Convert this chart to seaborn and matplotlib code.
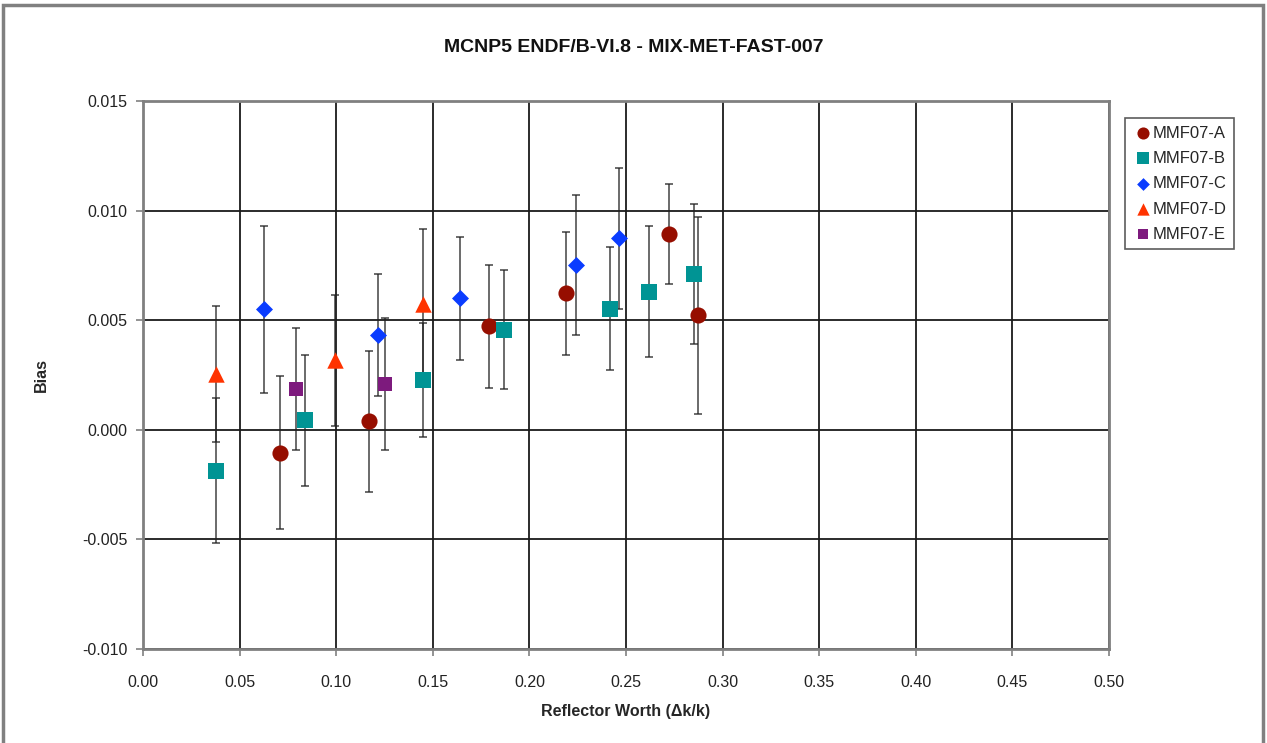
import matplotlib
matplotlib.use("Agg")
import matplotlib.pyplot as plt
import seaborn as sns
import pandas as pd
from matplotlib.patches import Rectangle

# ---- data ----
series_names = ["MMF07-A", "MMF07-B", "MMF07-C", "MMF07-D", "MMF07-E"]

a_x = [0.0707, 0.1169, 0.1789, 0.2192, 0.2720, 0.2875]
a_y = [-0.00104, 0.00038, 0.00472, 0.00622, 0.00893, 0.00523]
a_e = [0.0035, 0.0032, 0.0028, 0.0028, 0.0023, 0.0045]

b_x = [0.0376, 0.0840, 0.1448, 0.1867, 0.2417, 0.2618, 0.2853]
b_y = [-0.00186, 0.00043, 0.00229, 0.00457, 0.00552, 0.00630, 0.00712]
b_e = [0.0033, 0.0030, 0.0026, 0.0027, 0.0028, 0.0030, 0.0032]

c_x = [0.0626, 0.1215, 0.1643, 0.2241, 0.2465]
c_y = [0.00549, 0.00433, 0.00599, 0.00751, 0.00873]
c_e = [0.0038, 0.0028, 0.0028, 0.0032, 0.0032]

d_x = [0.0376, 0.0995, 0.1451]
d_y = [0.00256, 0.00317, 0.00575]
d_e = [0.0031, 0.0030, 0.0034]

e_x = [0.0793, 0.1250]
e_y = [0.00186, 0.00209]
e_e = [0.0028, 0.0030]

xticks = [0.00, 0.05, 0.10, 0.15, 0.20, 0.25, 0.30, 0.35, 0.40, 0.45, 0.50]
yticks = [-0.010, -0.005, 0.000, 0.005, 0.010, 0.015]

frames = []
for name, xs, ys, es in zip(series_names,
                            [a_x, b_x, c_x, d_x, e_x],
                            [a_y, b_y, c_y, d_y, e_y],
                            [a_e, b_e, c_e, d_e, e_e]):
    frames.append(pd.DataFrame({"series": name, "x": xs, "y": ys, "err": es}))
df = pd.concat(frames, ignore_index=True)

palette = {"MMF07-A": "#960E00", "MMF07-B": "#009494", "MMF07-C": "#0A3CFF",
           "MMF07-D": "#FF3300", "MMF07-E": "#7D1A7D"}
markers = {"MMF07-A": "o", "MMF07-B": "s", "MMF07-C": "D",
           "MMF07-D": "^", "MMF07-E": "s"}
sizes = {"MMF07-A": 135, "MMF07-B": 125, "MMF07-C": 75,
         "MMF07-D": 140, "MMF07-E": 95}

sns.set_theme(style="white")
plt.rcParams['font.family'] = ['Liberation Sans', 'DejaVu Sans']

fig = plt.figure(figsize=(12.67, 7.43), dpi=100)
ax = fig.add_axes([143/1267, 1 - 649/743, (1109 - 143)/1267, (649 - 101)/743])

# error bars
ax.errorbar(df["x"], df["y"], yerr=df["err"], fmt="none", ecolor="#222222",
            elinewidth=1.1, capsize=3.2, capthick=1.1, alpha=0.85, zorder=3)

for name in series_names:
    sub = df[df["series"] == name]
    sns.scatterplot(data=sub, x="x", y="y", ax=ax, color=palette[name],
                    marker=markers[name], s=sizes[name], linewidth=0,
                    label=name, zorder=4)

ax.set_xlim(0, 0.5)
ax.set_ylim(-0.010, 0.015)
ax.set_xticks(xticks)
ax.set_yticks(yticks)
ax.set_xticklabels([f"{v:.2f}" for v in xticks])
ax.set_yticklabels([f"{v:.3f}" for v in yticks])
ax.grid(True, color="#1a1a1a", linewidth=1.3)
ax.set_axisbelow(True)
for sp in ax.spines.values():
    sp.set_color("#808080")
    sp.set_linewidth(2)
    sp.set_visible(True)
ax.tick_params(axis="both", which="major", direction="out", length=5,
               width=1.2, color="#808080", labelsize=11.5, labelcolor="#222222",
               pad=6, bottom=True, left=True)
ax.tick_params(axis="x", pad=14)

ax.set_xlabel("Reflector Worth (\u0394k/k)", fontsize=11.5, fontweight="bold")
ax.set_ylabel("Bias", fontsize=11.5, fontweight="bold")
ax.xaxis.set_label_coords(0.5, -0.1)
ax.yaxis.set_label_coords(-0.097, 0.5)

fig.text(0.5, 1 - 47/743, "MCNP5 ENDF/B-VI.8 - MIX-MET-FAST-007", ha="center",
         va="center", fontsize=14, fontweight="bold", color="#111111")

leg = ax.legend(loc="upper left", bbox_to_anchor=(1125/1267, 1 - 118/743),
                bbox_transform=fig.transFigure, frameon=True, fancybox=False,
                borderaxespad=0.0,
                fontsize=12, handletextpad=0.0, borderpad=0.45, labelspacing=0.62,
                handlelength=1.2, markerscale=0.75)
leg.get_frame().set_edgecolor("#333333")
leg.get_frame().set_linewidth(1.2)

fig.patches.append(Rectangle((3/1267, -0.01), (1263 - 3)/1267, 1 - 5/743 + 0.01,
                             transform=fig.transFigure, fill=False,
                             edgecolor="#808080", linewidth=2.5))

fig.savefig("out.png", dpi=100)
